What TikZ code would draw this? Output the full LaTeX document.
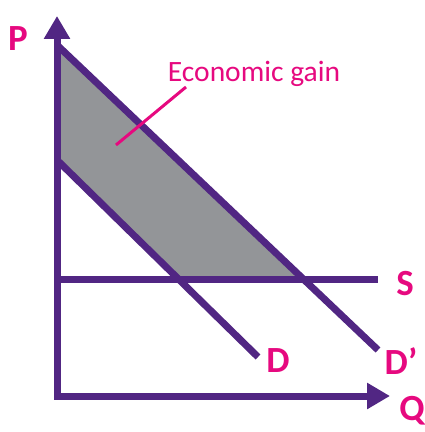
\documentclass[tikz,border=0pt]{standalone}
\usepackage{fontspec}
\setmainfont{Carlito}
\usetikzlibrary{arrows.meta, positioning}
\definecolor{curvepurple}{HTML}{512683}
\definecolor{labelpink}{HTML}{E6097F}
\definecolor{gaingray}{HTML}{939598}

\begin{document}
\begin{tikzpicture}[
    x=0.02cm, y=-0.02cm,
    axis/.style={line width=7*0.02cm, draw=curvepurple, {Triangle[length=0.46cm, width=0.5cm]}-{Triangle[length=0.46cm, width=0.5cm]}},
    curve/.style={line width=7*0.02cm, draw=curvepurple},
    letter/.style={font=\fontsize{21}{21}\selectfont\bfseries, text=labelpink, inner sep=0pt},
    tag/.style={font=\fontsize{16.8}{17}\selectfont, text=labelpink, inner sep=1pt},
    pointer/.style={draw=labelpink, line width=3*0.02cm},
]
    \useasboundingbox (0,0) rectangle (425,432);

    % key points
    \coordinate (ptop) at (57,16);
    \coordinate (origin) at (57,396);
    \coordinate (qend) at (390,396);
    \coordinate (dpstart) at (57,45);
    \coordinate (dpend) at (378,350);
    \coordinate (dstart) at (57,160);
    \coordinate (dend) at (258,357);
    \coordinate (sstart) at (57,279);
    \coordinate (send) at (378,279);
    \coordinate (dpcross) at (301,279);
    \coordinate (dcross) at (177,279);

    % shaded gain
    \fill[gaingray] (dpstart) -- (dpcross) -- (dcross) -- (dstart) -- cycle;

    % curves
    \draw[curve] (dpstart) -- (dpend);
    \draw[curve] (dstart) -- (dend);
    \draw[curve] (sstart) -- (send);

    % axes
    \draw[axis] (ptop) -- (origin) -- (qend);

    % labels
    \node[letter] (plabel) at (18,39) {P};
    \node[letter] (qlabel) at (412,411) {Q};
    \node[letter] (slabel) at (405,284) {S};
    \node[letter] (dlabel) at (278,361) {D};
    \node[letter] (dplabel) at (401,361) {D’};

    % economic gain
    \node[tag] (gain) at (254,74) {Economic gain};
    \coordinate (tagfoot) at (186,87);
    \coordinate (inarea) at (116,145);
    \draw[pointer] (tagfoot) -- (inarea);

\end{tikzpicture}
\end{document}
